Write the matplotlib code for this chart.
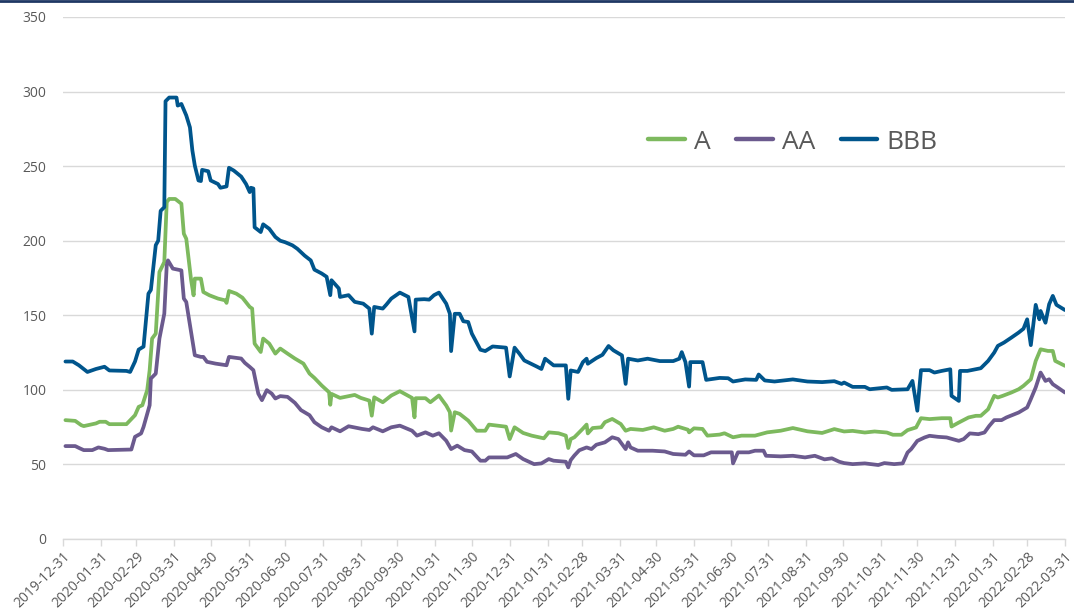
import numpy as np
import pandas as pd
import matplotlib
matplotlib.use("Agg")
import matplotlib.pyplot as plt
import matplotlib.dates as mdates
from matplotlib.lines import Line2D

# spread series (bp)
bbb_dates = ["2020-01-02", "2020-01-08", "2020-01-13", "2020-01-20", "2020-01-27", "2020-02-03", "2020-02-07",
             "2020-02-21", "2020-02-24", "2020-02-28", "2020-03-02", "2020-03-06", "2020-03-10", "2020-03-12",
             "2020-03-16", "2020-03-18", "2020-03-20", "2020-03-23", "2020-03-24", "2020-03-27", "2020-04-02",
             "2020-04-03", "2020-04-06", "2020-04-10", "2020-04-13", "2020-04-15", "2020-04-17", "2020-04-20",
             "2020-04-22", "2020-04-23", "2020-04-28", "2020-04-30", "2020-05-06", "2020-05-08", "2020-05-13",
             "2020-05-15", "2020-05-19", "2020-05-25", "2020-05-29", "2020-06-01", "2020-06-02", "2020-06-04",
             "2020-06-05", "2020-06-10", "2020-06-12", "2020-06-17", "2020-06-22", "2020-06-26", "2020-06-30",
             "2020-07-06", "2020-07-10", "2020-07-16", "2020-07-21", "2020-07-24", "2020-07-30", "2020-08-03",
             "2020-08-06", "2020-08-07", "2020-08-13", "2020-08-14", "2020-08-21", "2020-08-26", "2020-09-02",
             "2020-09-07", "2020-09-09", "2020-09-11", "2020-09-18", "2020-09-21", "2020-09-25", "2020-10-02",
             "2020-10-09", "2020-10-14", "2020-10-15", "2020-10-22", "2020-10-26", "2020-10-30", "2020-11-03",
             "2020-11-09", "2020-11-12", "2020-11-13", "2020-11-16", "2020-11-20", "2020-11-23", "2020-11-27",
             "2020-11-30", "2020-12-07", "2020-12-11", "2020-12-17", "2020-12-28", "2020-12-31", "2021-01-04",
             "2021-01-08", "2021-01-12", "2021-01-22", "2021-01-26", "2021-01-29", "2021-02-05", "2021-02-15",
             "2021-02-17", "2021-02-19", "2021-02-25", "2021-03-01", "2021-03-04", "2021-03-05", "2021-03-12",
             "2021-03-17", "2021-03-22", "2021-03-26", "2021-04-02", "2021-04-05", "2021-04-07", "2021-04-15",
             "2021-04-23", "2021-05-03", "2021-05-14", "2021-05-19", "2021-05-21", "2021-05-24", "2021-05-27",
             "2021-05-28", "2021-06-07", "2021-06-10", "2021-06-21", "2021-06-28", "2021-07-02", "2021-07-12",
             "2021-07-21", "2021-07-23", "2021-07-28", "2021-08-05", "2021-08-20", "2021-09-01", "2021-09-13",
             "2021-09-23", "2021-09-29", "2021-10-01", "2021-10-08", "2021-10-18", "2021-10-22", "2021-11-05",
             "2021-11-09", "2021-11-22", "2021-11-26", "2021-11-30", "2021-12-03", "2021-12-10", "2021-12-14",
             "2021-12-20", "2021-12-27", "2021-12-28", "2022-01-03", "2022-01-04", "2022-01-10", "2022-01-17",
             "2022-01-21", "2022-01-27", "2022-02-01", "2022-02-04", "2022-02-09", "2022-02-15", "2022-02-21",
             "2022-02-25", "2022-02-28", "2022-03-01", "2022-03-03", "2022-03-07", "2022-03-10", "2022-03-11",
             "2022-03-15", "2022-03-18", "2022-03-21", "2022-03-24", "2022-03-28", "2022-03-31"]
bbb_values = [119, 119, 116.5, 112, 114, 115.5, 113,
              112.7, 112, 119, 127, 129, 164.5, 167,
              197, 200, 220, 222.5, 293.5, 296, 296,
              290.6, 291.7, 284, 276, 260.5, 250.4, 240.4,
              240, 247.5, 246.6, 240.4, 238, 235.5, 236.4,
              248.9, 247, 243, 238, 232.6, 235.5, 235,
              209, 205.8, 211, 208, 202.5, 200, 199,
              196.9, 194.6, 190, 186.8, 180.6, 178, 175.8,
              163.5, 173.5, 168, 162.3, 163.5, 159, 157.8,
              154.5, 137.7, 155.6, 154.5, 157.2, 161.2, 165.2,
              162.3, 139.2, 160.5, 160.8, 160.5, 163.5, 165.2,
              157.8, 151, 126, 151, 151, 146, 145.5,
              137.7, 126.9, 126, 129.1, 128.3, 109, 128.3,
              124.2, 119.7, 115.7, 114, 120.9, 116.4, 116.4,
              94, 113, 112, 118.6, 120.9, 117.5, 121.3,
              123.5, 129.4, 126.5, 123.1, 104, 120.9, 119.7,
              120.9, 119.3, 119.3, 120.9, 125.3, 118.6, 102.2,
              118.6, 118.6, 106.7, 108, 107.8, 105.6, 107,
              106.7, 110.3, 106.3, 105.6, 107, 105.6, 105.2,
              105.8, 104, 104.9, 102, 102, 100.4, 101.6,
              100, 100.4, 106, 86, 113.2, 113.2, 111.6,
              112.7, 113.8, 96, 92.6, 112.7, 112.7, 113.8,
              114.5, 119.4, 125, 129.5, 131.7, 135, 138.4,
              141, 147.3, 141.7, 130, 157, 147.3, 152.9,
              145, 157.4, 163, 157, 155, 153.5]

a_dates = ["2020-01-02", "2020-01-10", "2020-01-15", "2020-01-17", "2020-01-27", "2020-01-30", "2020-02-04",
           "2020-02-07", "2020-02-21", "2020-02-28", "2020-03-02", "2020-03-05", "2020-03-09", "2020-03-11",
           "2020-03-13", "2020-03-16", "2020-03-19", "2020-03-23", "2020-03-25", "2020-03-27", "2020-04-01",
           "2020-04-06", "2020-04-08", "2020-04-10", "2020-04-14", "2020-04-16", "2020-04-17", "2020-04-22",
           "2020-04-24", "2020-04-29", "2020-05-06", "2020-05-12", "2020-05-13", "2020-05-15", "2020-05-21",
           "2020-05-26", "2020-06-01", "2020-06-03", "2020-06-05", "2020-06-10", "2020-06-12", "2020-06-17",
           "2020-06-22", "2020-06-26", "2020-07-02", "2020-07-08", "2020-07-15", "2020-07-20", "2020-07-24",
           "2020-07-30", "2020-08-05", "2020-08-06", "2020-08-07", "2020-08-14", "2020-08-26", "2020-08-31",
           "2020-09-07", "2020-09-09", "2020-09-11", "2020-09-18", "2020-09-25", "2020-10-02", "2020-10-12",
           "2020-10-14", "2020-10-15", "2020-10-23", "2020-10-27", "2020-11-03", "2020-11-09", "2020-11-12",
           "2020-11-13", "2020-11-16", "2020-11-20", "2020-11-27", "2020-12-04", "2020-12-11", "2020-12-14",
           "2020-12-28", "2020-12-31", "2021-01-04", "2021-01-11", "2021-01-18", "2021-01-28", "2021-02-01",
           "2021-02-09", "2021-02-15", "2021-02-17", "2021-02-19", "2021-02-22", "2021-02-26", "2021-03-01",
           "2021-03-04", "2021-03-05", "2021-03-09", "2021-03-16", "2021-03-19", "2021-03-25", "2021-04-01",
           "2021-04-05", "2021-04-09", "2021-04-19", "2021-04-28", "2021-05-07", "2021-05-14", "2021-05-18",
           "2021-05-26", "2021-05-27", "2021-05-31", "2021-06-07", "2021-06-11", "2021-06-21", "2021-06-25",
           "2021-07-02", "2021-07-09", "2021-07-20", "2021-07-30", "2021-08-10", "2021-08-20", "2021-09-01",
           "2021-09-13", "2021-09-23", "2021-10-01", "2021-10-08", "2021-10-18", "2021-10-26", "2021-11-05",
           "2021-11-10", "2021-11-17", "2021-11-22", "2021-11-29", "2021-12-03", "2021-12-10", "2021-12-20",
           "2021-12-27", "2021-12-28", "2022-01-03", "2022-01-11", "2022-01-17", "2022-01-21", "2022-01-27",
           "2022-02-01", "2022-02-04", "2022-02-08", "2022-02-15", "2022-02-21", "2022-02-25", "2022-03-03",
           "2022-03-07", "2022-03-11", "2022-03-17", "2022-03-21", "2022-03-23", "2022-03-31"]
a_values = [79.7, 79.2, 76.3, 75.7, 77.5, 78.6, 78.6,
            77, 77, 83, 88.6, 89.7, 99.8, 113.2,
            134.4, 137.7, 179, 185.7, 225.9, 228, 228,
            224.8, 204.7, 201.3, 173.4, 163.4, 174.6, 174.6,
            165.6, 163.4, 161.2, 160, 158.3, 166.3, 164.5,
            161.8, 155.6, 154.5, 131, 125.4, 134.4, 131,
            124.3, 127.7, 124.3, 121, 117.6, 110.9, 108,
            102.9, 98.4, 90, 97.3, 94.6, 96.6, 94.6,
            92.8, 82.7, 95, 91.7, 96.2, 99.1, 94.6,
            81.6, 94.4, 94.4, 91.7, 96.2, 89.5, 85,
            72.7, 85, 83.9, 79.4, 72.6, 72.6, 76.7,
            75.3, 67, 74.9, 71.1, 69.3, 67.5, 71.5,
            70.9, 69.3, 61, 67, 68.2, 71.5, 74,
            76.7, 70.8, 74.4, 74.9, 78.3, 80.5, 77.1,
            72.6, 73.8, 73.1, 74.9, 72.6, 73.8, 75.3,
            73.3, 71.5, 74.2, 73.8, 69.3, 70, 70.9,
            68.2, 69.3, 69.3, 71.5, 72.6, 74.4, 72.2,
            71.1, 73.7, 72.1, 72.5, 71.4, 72.1, 71.4,
            69.9, 69.9, 73, 74.8, 81, 80.4, 81,
            81, 75.4, 78.1, 81.5, 82.6, 82.6, 87,
            96, 94.9, 96, 98.2, 100.4, 102.7, 107.1,
            119.4, 127.2, 126.1, 126.1, 119.4, 116.1]

aa_dates = ["2020-01-02", "2020-01-10", "2020-01-14", "2020-01-17", "2020-01-24", "2020-01-29", "2020-02-03",
            "2020-02-06", "2020-02-25", "2020-02-28", "2020-03-04", "2020-03-06", "2020-03-11", "2020-03-12",
            "2020-03-16", "2020-03-19", "2020-03-23", "2020-03-25", "2020-03-26", "2020-03-30", "2020-04-06",
            "2020-04-08", "2020-04-10", "2020-04-17", "2020-04-22", "2020-04-24", "2020-04-27", "2020-05-04",
            "2020-05-13", "2020-05-15", "2020-05-25", "2020-05-28", "2020-06-01", "2020-06-04", "2020-06-08",
            "2020-06-11", "2020-06-15", "2020-06-19", "2020-06-22", "2020-06-26", "2020-07-02", "2020-07-08",
            "2020-07-13", "2020-07-20", "2020-07-24", "2020-07-30", "2020-08-05", "2020-08-07", "2020-08-14",
            "2020-08-21", "2020-09-01", "2020-09-07", "2020-09-10", "2020-09-18", "2020-09-25", "2020-10-02",
            "2020-10-12", "2020-10-16", "2020-10-23", "2020-10-29", "2020-11-03", "2020-11-09", "2020-11-13",
            "2020-11-18", "2020-11-24", "2020-11-30", "2020-12-07", "2020-12-11", "2020-12-14", "2020-12-29",
            "2021-01-05", "2021-01-11", "2021-01-20", "2021-01-26", "2021-02-01", "2021-02-05", "2021-02-15",
            "2021-02-17", "2021-02-19", "2021-02-22", "2021-02-26", "2021-03-04", "2021-03-08", "2021-03-12",
            "2021-03-19", "2021-03-25", "2021-03-30", "2021-04-01", "2021-04-05", "2021-04-07", "2021-04-09",
            "2021-04-15", "2021-04-27", "2021-05-07", "2021-05-14", "2021-05-24", "2021-05-27", "2021-05-31",
            "2021-06-08", "2021-06-14", "2021-07-01", "2021-07-02", "2021-07-06", "2021-07-15", "2021-07-20",
            "2021-07-27", "2021-07-29", "2021-08-10", "2021-08-20", "2021-08-30", "2021-09-07", "2021-09-15",
            "2021-09-21", "2021-09-27", "2021-10-01", "2021-10-08", "2021-10-18", "2021-10-29", "2021-11-03",
            "2021-11-11", "2021-11-18", "2021-11-22", "2021-11-25", "2021-11-30", "2021-12-06", "2021-12-10",
            "2021-12-17", "2021-12-24", "2022-01-03", "2022-01-07", "2022-01-12", "2022-01-19", "2022-01-24",
            "2022-01-28", "2022-02-01", "2022-02-07", "2022-02-11", "2022-02-21", "2022-02-28", "2022-03-03",
            "2022-03-07", "2022-03-11", "2022-03-15", "2022-03-18", "2022-03-21", "2022-03-25", "2022-03-31"]
aa_values = [62.3, 62.3, 60.7, 59.6, 59.6, 61.4, 60.5,
             59.6, 60, 68.5, 70.8, 75.2, 89.7, 107.6,
             110.9, 134.4, 151.1, 183.5, 186.8, 181.3, 180.1,
             161.2, 158.9, 123.2, 122.1, 122.1, 118.8, 117.6,
             116.5, 122.1, 121, 118.1, 115.4, 113.2, 97.5,
             93.1, 99.8, 97.5, 94.2, 95.8, 95.3, 91.3,
             86.4, 83, 78.3, 74.9, 72.6, 74.9, 72.2,
             75.6, 73.8, 73.1, 74.9, 72.2, 74.9, 76,
             72.6, 69.3, 71.5, 69.3, 70.9, 65.9, 60.3,
             62.6, 59.6, 58.7, 52.5, 52.5, 54.7, 54.7,
             57, 53.6, 50.2, 50.7, 53.6, 52.5, 51.8,
             48, 52.9, 56, 59.5, 61.4, 60.3, 63.2,
             64.8, 68.2, 67, 64.8, 60.3, 64.8, 61.4,
             59.2, 59.2, 58.7, 57, 56.5, 58.7, 56.1,
             56.1, 58.1, 58.1, 50.7, 58.1, 58.1, 59.2,
             59.2, 55.8, 55.4, 55.8, 54.7, 55.8, 53.4,
             54.1, 51.8, 50.9, 50.2, 50.7, 49.6, 50.9,
             50.2, 50.7, 58, 60.3, 65.8, 68.1, 69.2,
             68.5, 68.1, 65.8, 67, 70.8, 70.3, 71.4,
             75.9, 79.7, 79.7, 81.5, 84.8, 88.2, 93.8,
             101.6, 111.6, 106, 107.1, 103.8, 101.6, 98.2]

tick_dates = pd.date_range("2019-12-31", "2022-03-31", freq="ME")

series_names = ["A", "AA", "BBB"]
colors = {"A": "#7db95e", "AA": "#6b5a8e", "BBB": "#00558c"}

text_gray = "#595959"
grid_gray = "#d9d9d9"

plt.rcParams["font.family"] = ["Open Sans", "DejaVu Sans"]

fig = plt.figure(figsize=(10.74, 6.16), dpi=100)
ax = fig.add_axes([63 / 1074, 1 - 539 / 616, 1002 / 1074, 522 / 616])

data = {"A": (a_dates, a_values), "AA": (aa_dates, aa_values), "BBB": (bbb_dates, bbb_values)}
for name in series_names:
    d, v = data[name]
    ax.plot(pd.to_datetime(d), v, color=colors[name], lw=2.7, label=name,
            solid_joinstyle="round", solid_capstyle="round")

ax.set_ylim(0, 350)
ax.set_yticks(np.arange(0, 351, 50))
ax.set_xlim(pd.Timestamp("2019-12-31"), pd.Timestamp("2022-03-31"))
ax.set_xticks(tick_dates)
ax.xaxis.set_major_formatter(mdates.DateFormatter("%Y-%m-%d"))

ax.grid(axis="y", color=grid_gray, lw=1)
ax.set_axisbelow(True)
for side in ["left", "right", "top"]:
    ax.spines[side].set_visible(False)
ax.spines["bottom"].set_color(grid_gray)
ax.spines["bottom"].set_linewidth(1)

ax.tick_params(axis="y", length=0, pad=12, labelsize=10, labelcolor=text_gray)
ax.tick_params(axis="x", length=5, width=1, color=grid_gray, pad=2, labelsize=10, labelcolor=text_gray)
for lbl in ax.get_xticklabels():
    lbl.set_rotation(45)
    lbl.set_ha("right")
    lbl.set_rotation_mode("anchor")

leg = ax.legend(loc="center", bbox_to_anchor=(0.7285, 0.7605), ncol=3, frameon=False,
                fontsize=19, handlelength=1.4, handletextpad=0.35, columnspacing=0.95,
                labelcolor=text_gray)
for h in leg.get_lines():
    h.set_linewidth(3.2)
    h.set_solid_capstyle("round")

# dark rule along the top edge
fig.add_artist(Line2D([0, 1], [0.999, 0.999], transform=fig.transFigure, color="#1f3864", lw=2))

fig.savefig("out.png", dpi=100)
